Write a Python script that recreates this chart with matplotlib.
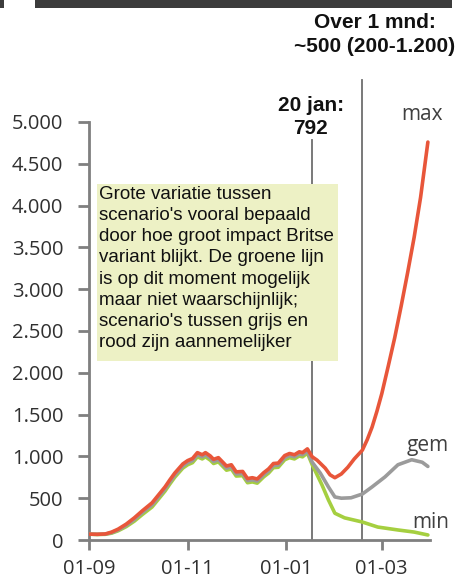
import matplotlib
matplotlib.use('Agg')
import matplotlib.pyplot as plt
from matplotlib.patches import Rectangle

# ---------------- data (x = days since 2020-09-01) ----------------
days_hist = [0, 5, 10, 14, 18, 23, 28, 33, 39, 43, 47, 50, 53, 58, 61, 64, 67, 70, 72, 75,
             77, 80, 85, 88, 91, 95, 98, 101, 104, 108, 111, 114, 117, 121, 124, 127, 130,
             132, 135, 138]
max_hist = [70, 68, 72, 95, 130, 190, 265, 350, 445, 540, 635, 720, 800, 910, 950, 975, 1045,
            1020, 1045, 1005, 965, 985, 885, 900, 815, 820, 735, 745, 730, 805, 850, 915, 920,
            1010, 1035, 1020, 1055, 1045, 1090, 995]
gem_hist = [70, 68, 70, 88, 120, 175, 245, 330, 420, 515, 610, 695, 775, 885, 925, 950, 1020,
            995, 1020, 980, 940, 960, 860, 875, 790, 795, 710, 720, 705, 780, 825, 890, 895,
            985, 1010, 995, 1030, 1020, 1065, 930]
min_hist = [70, 66, 68, 82, 110, 160, 225, 305, 395, 490, 585, 670, 750, 860, 900, 925, 995,
            970, 995, 955, 915, 935, 835, 850, 765, 770, 685, 695, 680, 755, 800, 865, 870,
            960, 985, 970, 1005, 995, 1040, 900]

days_max_fc = [141, 146, 149, 152, 156, 160, 164, 169, 172, 175, 178, 181, 185, 189, 193, 197,
               201, 205, 209.5]
max_fc = [955, 860, 780, 745, 790, 870, 970, 1075, 1200, 1350, 1540, 1750, 2080, 2420, 2800,
          3200, 3620, 4100, 4760]
days_gem_fc = [143, 148, 152, 156, 162, 169, 175, 183, 191, 199.5, 206, 209.5]
gem_fc = [800, 635, 515, 500, 505, 550, 635, 755, 900, 960, 930, 880]
days_min_fc = [144, 148, 152, 158, 169, 178.5, 191, 201, 209.5]
min_fc = [660, 480, 320, 265, 215, 155, 120, 95, 60]

day_20jan = 138
day_1month = 169
x_ticks = [0, 61, 122, 181]
x_ticklabels = ['01-09', '01-11', '01-01', '01-03']
y_ticks = [0, 500, 1000, 1500, 2000, 2500, 3000, 3500, 4000, 4500, 5000]
y_ticklabels = ['0', '500', '1.000', '1.500', '2.000', '2.500', '3.000', '3.500', '4.000',
                '4.500', '5.000']

RED = '#E8563A'
GREY = '#9B9B9B'
GREEN = '#A5CF40'
AXC = '#7F7F7F'
TXT = '#303030'

W, H = 466, 579
fig = plt.figure(figsize=(W / 100, H / 100), dpi=100)
fig.patch.set_facecolor('white')

def fx(px):
    return px / W

def fy(py):
    return 1 - py / H

ax = fig.add_axes([fx(89), fy(540), (429.5 - 89) / W, (540 - 122) / H])

kw = dict(lw=2.6, solid_joinstyle='round', solid_capstyle='round')
ax.plot(days_hist + days_min_fc, min_hist + min_fc, color=GREEN, zorder=3, **kw)
ax.plot(days_hist + days_gem_fc, gem_hist + gem_fc, color=GREY, zorder=4, **kw)
ax.plot(days_hist + days_max_fc, max_hist + max_fc, color=RED, zorder=5, **kw)

ax.plot([day_20jan, day_20jan], [0, 4790], color='#6E6E6E', lw=1.3, zorder=2, clip_on=False)
ax.plot([day_1month, day_1month], [0, 5500], color='#6E6E6E', lw=1.3, zorder=2, clip_on=False)

ax.set_xlim(0, 210.5)
ax.set_ylim(0, 5000)
ax.set_xticks(x_ticks)
ax.set_xticklabels(x_ticklabels)
ax.set_yticks(y_ticks)
ax.set_yticklabels(y_ticklabels)

for s in ['top', 'right']:
    ax.spines[s].set_visible(False)
for s in ['left', 'bottom']:
    ax.spines[s].set_color(AXC)
    ax.spines[s].set_linewidth(2)

ax.tick_params(axis='y', direction='out', length=8, width=2, color=AXC, pad=10.5,
               labelsize=14.5, labelcolor=TXT)
ax.tick_params(axis='x', direction='out', length=7, width=2, color=AXC, pad=7,
               labelsize=14.5, labelcolor=TXT)
for lab in ax.get_xticklabels() + ax.get_yticklabels():
    lab.set_fontfamily('Open Sans')

# top header bar
fig.patches.append(Rectangle((fx(35), fy(8)), fx(452) - fx(35), fy(0) - fy(8),
                             transform=fig.transFigure, facecolor='#3C3C3C', edgecolor='none'))
fig.patches.append(Rectangle((0, fy(8)), fx(4), fy(0) - fy(8),
                             transform=fig.transFigure, facecolor='#3C3C3C', edgecolor='none'))

# annotation box
fig.patches.append(Rectangle((fx(97), fy(361)), fx(338) - fx(97), fy(184) - fy(361),
                             transform=fig.transFigure, facecolor='#EDF1C5', edgecolor='none',
                             zorder=5))
fig.text(fx(99), fy(186),
         "Grote variatie tussen\nscenario's vooral bepaald\ndoor hoe groot impact Britse\n"
         "variant blijkt. De groene lijn\nis op dit moment mogelijk\nmaar niet waarschijnlijk;\n"
         "scenario's tussen grijs en\nrood zijn aannemelijker",
         ha='left', va='top', fontsize=13.5, family='Liberation Sans', color='#111111',
         linespacing=1.32, zorder=6)

fig.text(fx(311), fy(117), "20 jan:\n792", ha='center', va='center', ma='center',
         fontsize=15, fontweight='bold', family='Liberation Sans', color='#111111',
         linespacing=1.3)
fig.text(fx(375), fy(34.5), "Over 1 mnd:\n~500 (200-1.200)", ha='center', va='center',
         ma='center', fontsize=15, fontweight='bold', family='Liberation Sans',
         color='#111111', linespacing=1.3)

for label, px, py in [('max', 422, 115), ('gem', 428, 445), ('min', 431, 522)]:
    fig.text(fx(px), fy(py), label, ha='center', va='center', fontsize=15,
             family='Open Sans', color='#404040')

fig.savefig('out.png', dpi=100)
